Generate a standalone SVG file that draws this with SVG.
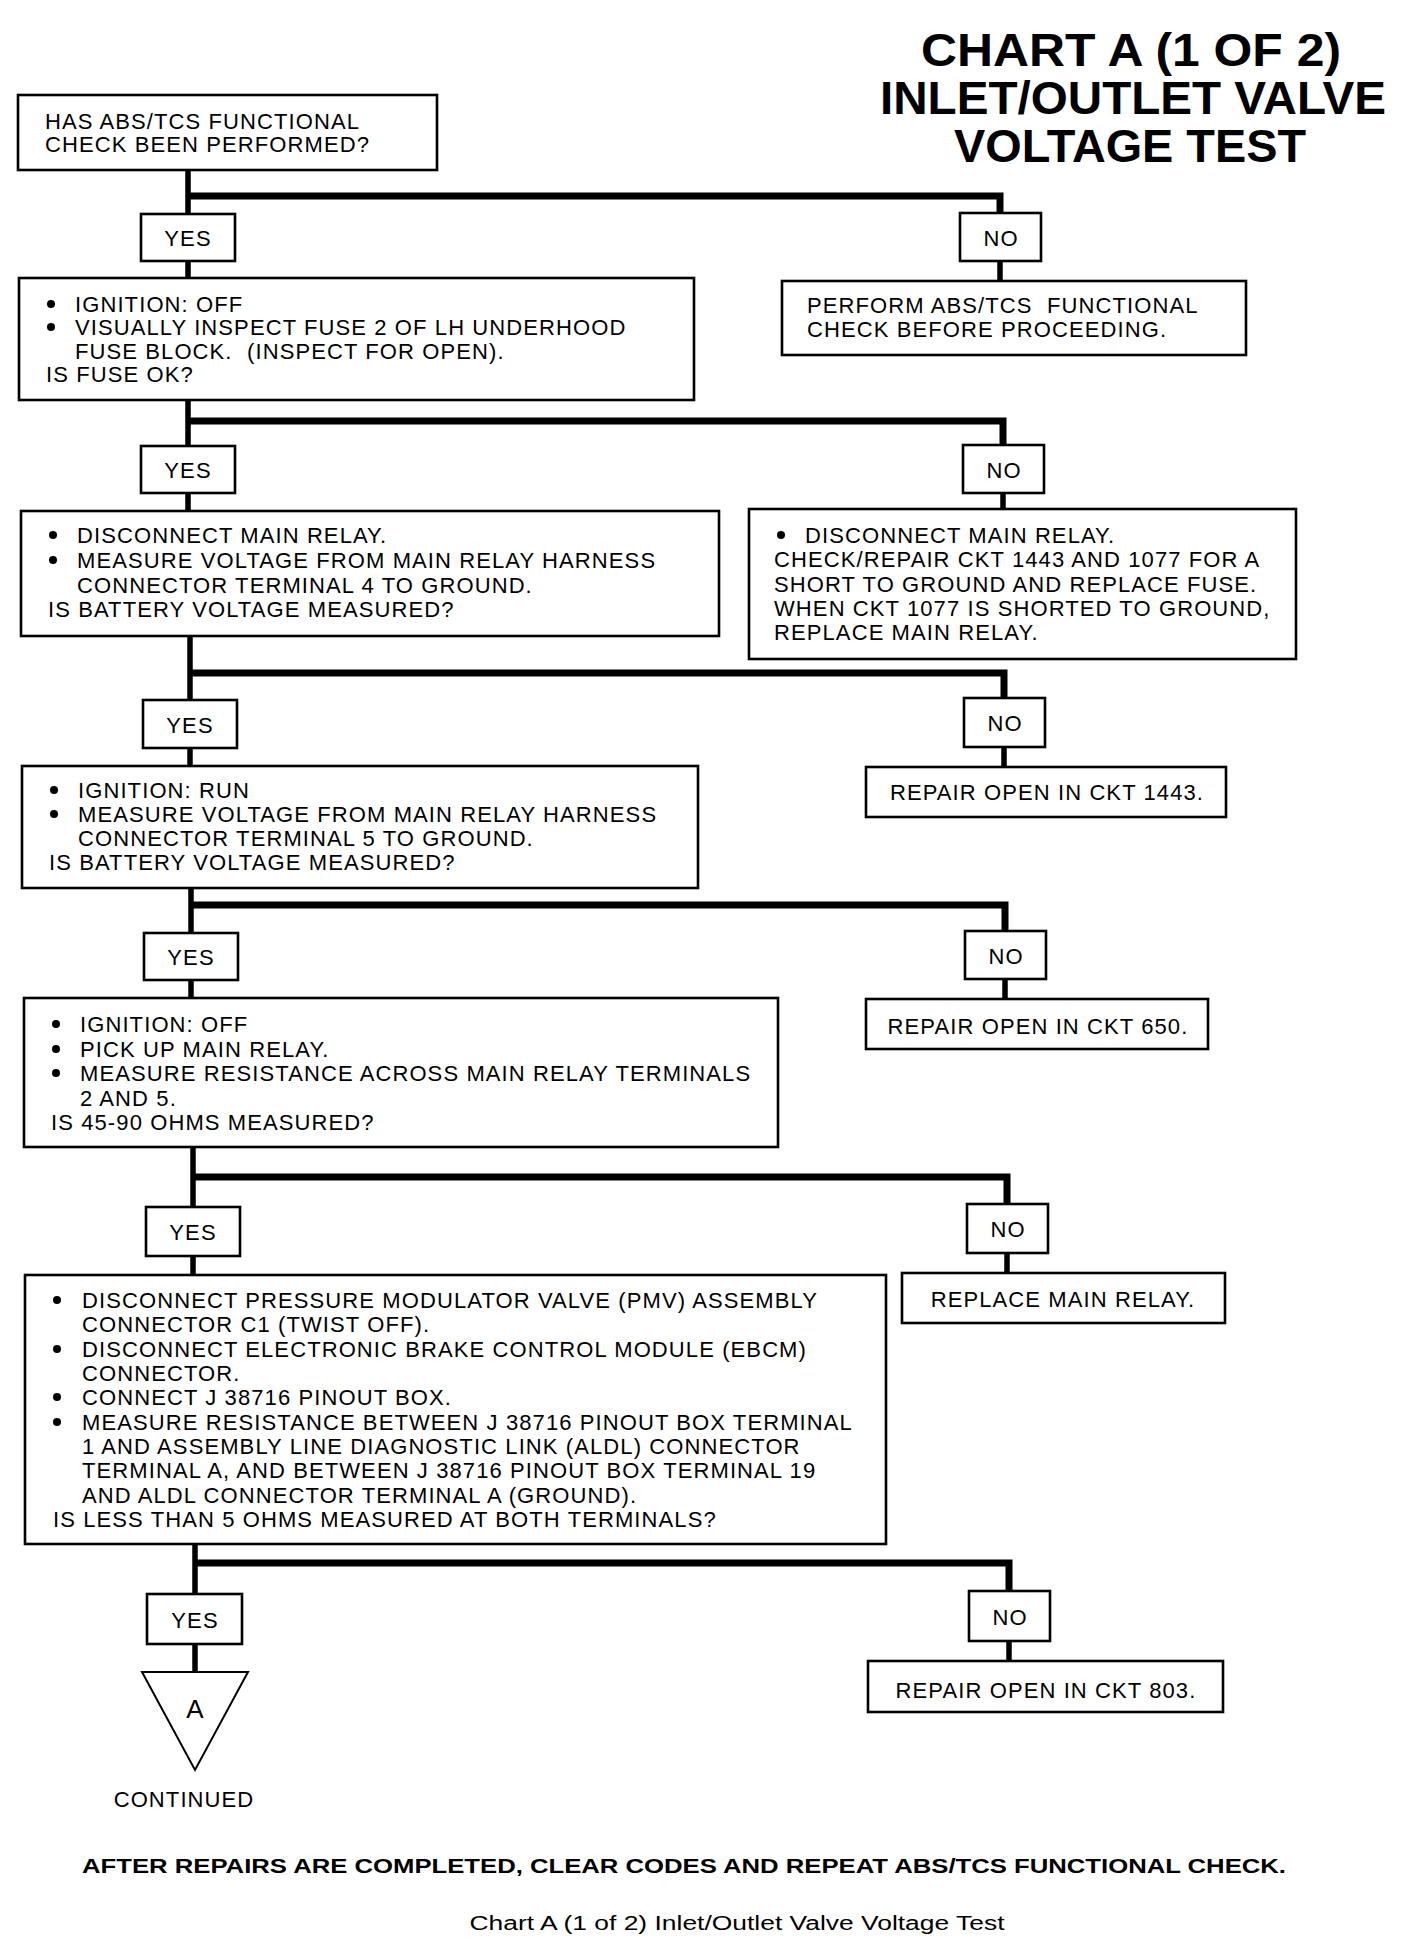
<svg xmlns="http://www.w3.org/2000/svg" width="1408" height="1944" viewBox="0 0 1408 1944">
<style>
.bg{fill:#fff}
.box{fill:#fff;stroke:#000;stroke-width:2.6}
.t{font-family:"Liberation Sans",Arial,Helvetica,sans-serif;font-size:22px;letter-spacing:1.1px;fill:#000}
.m{text-anchor:middle}
.ttl{font-family:"Liberation Sans",Arial,Helvetica,sans-serif;font-size:46px;font-weight:bold;fill:#000;text-anchor:middle}
.wire{fill:none;stroke:#000;stroke-width:5.5}
.bus{fill:none;stroke:#000;stroke-width:7;stroke-linejoin:miter;stroke-linecap:butt}
.dot{fill:#000}
</style>
<rect class="bg" x="0" y="0" width="1408" height="1944"/>

<g id="title">
<text class="ttl" x="1131" y="66" textLength="420" lengthAdjust="spacingAndGlyphs">CHART A (1 OF 2)</text>
<text class="ttl" x="1133" y="114" textLength="506" lengthAdjust="spacingAndGlyphs">INLET/OUTLET VALVE</text>
<text class="ttl" x="1130" y="162" textLength="352" lengthAdjust="spacingAndGlyphs">VOLTAGE TEST</text>
</g>

<g id="connectors">
<path class="wire" d="M188 170V214M188 261V278M1000 261V281"/>
<path class="bus" d="M188 196H1000V213"/>
<path class="wire" d="M188 400V446M188 493V511M1003 493V509"/>
<path class="bus" d="M188 421H1003V445"/>
<path class="wire" d="M190 636V700M190 748V766M1004 747V767"/>
<path class="bus" d="M190 673H1004V698"/>
<path class="wire" d="M191 888V933M191 980V998M1005 979V999"/>
<path class="bus" d="M191 905H1005V931"/>
<path class="wire" d="M193 1147V1207M193 1256V1275M1007 1253V1273"/>
<path class="bus" d="M193 1177H1007V1204"/>
<path class="wire" d="M195 1544V1594M195 1644V1672M1009 1641V1661"/>
<path class="bus" d="M195 1563H1009V1591"/>
</g>

<g id="q1">
<rect class="box" x="18" y="95" width="419" height="75"/>
<text class="t" x="45" y="129">HAS ABS/TCS FUNCTIONAL</text>
<text class="t" x="45" y="152">CHECK BEEN PERFORMED?</text>
</g>

<g id="yes1"><rect class="box" x="141" y="214" width="94" height="47"/><text class="t m" x="188" y="246">YES</text></g>
<g id="no1"><rect class="box" x="960" y="213" width="81" height="48"/><text class="t m" x="1001" y="246">NO</text></g>

<g id="q2">
<rect class="box" x="19" y="278" width="675" height="122"/>
<circle class="dot" cx="51" cy="304" r="4"/>
<text class="t" x="75" y="312">IGNITION: OFF</text>
<circle class="dot" cx="51" cy="327" r="4"/>
<text class="t" x="75" y="335">VISUALLY INSPECT FUSE 2 OF LH UNDERHOOD</text>
<text class="t" x="75" y="359" xml:space="preserve">FUSE BLOCK.  (INSPECT FOR OPEN).</text>
<text class="t" x="46" y="382">IS FUSE OK?</text>
</g>

<g id="r1">
<rect class="box" x="782" y="281" width="464" height="74"/>
<text class="t" x="807" y="313" xml:space="preserve">PERFORM ABS/TCS  FUNCTIONAL</text>
<text class="t" x="807" y="337">CHECK BEFORE PROCEEDING.</text>
</g>

<g id="yes2"><rect class="box" x="141" y="446" width="94" height="47"/><text class="t m" x="188" y="478">YES</text></g>
<g id="no2"><rect class="box" x="963" y="445" width="81" height="48"/><text class="t m" x="1004" y="478">NO</text></g>

<g id="q3">
<rect class="box" x="21" y="511" width="698" height="125"/>
<circle class="dot" cx="53" cy="535" r="4"/>
<text class="t" x="77" y="543">DISCONNECT MAIN RELAY.</text>
<circle class="dot" cx="53" cy="560" r="4"/>
<text class="t" x="77" y="568">MEASURE VOLTAGE FROM MAIN RELAY HARNESS</text>
<text class="t" x="77" y="593">CONNECTOR TERMINAL 4 TO GROUND.</text>
<text class="t" x="48" y="617">IS BATTERY VOLTAGE MEASURED?</text>
</g>

<g id="r2">
<rect class="box" x="749" y="509" width="547" height="150"/>
<circle class="dot" cx="781" cy="535" r="4"/>
<text class="t" x="805" y="543">DISCONNECT MAIN RELAY.</text>
<text class="t" x="774" y="567">CHECK/REPAIR CKT 1443 AND 1077 FOR A</text>
<text class="t" x="774" y="592">SHORT TO GROUND AND REPLACE FUSE.</text>
<text class="t" x="774" y="616">WHEN CKT 1077 IS SHORTED TO GROUND,</text>
<text class="t" x="774" y="640">REPLACE MAIN RELAY.</text>
</g>

<g id="yes3"><rect class="box" x="143" y="700" width="94" height="48"/><text class="t m" x="190" y="733">YES</text></g>
<g id="no3"><rect class="box" x="964" y="698" width="81" height="49"/><text class="t m" x="1005" y="731">NO</text></g>

<g id="q4">
<rect class="box" x="22" y="766" width="676" height="122"/>
<circle class="dot" cx="54" cy="790" r="4"/>
<text class="t" x="78" y="798">IGNITION: RUN</text>
<circle class="dot" cx="54" cy="814" r="4"/>
<text class="t" x="78" y="822">MEASURE VOLTAGE FROM MAIN RELAY HARNESS</text>
<text class="t" x="78" y="846">CONNECTOR TERMINAL 5 TO GROUND.</text>
<text class="t" x="49" y="870">IS BATTERY VOLTAGE MEASURED?</text>
</g>

<g id="r3">
<rect class="box" x="866" y="767" width="360" height="50"/>
<text class="t m" x="1047" y="800">REPAIR OPEN IN CKT 1443.</text>
</g>

<g id="yes4"><rect class="box" x="144" y="933" width="94" height="47"/><text class="t m" x="191" y="965">YES</text></g>
<g id="no4"><rect class="box" x="965" y="931" width="81" height="48"/><text class="t m" x="1006" y="964">NO</text></g>

<g id="q5">
<rect class="box" x="24" y="998" width="754" height="149"/>
<circle class="dot" cx="56" cy="1024" r="4"/>
<text class="t" x="80" y="1032">IGNITION: OFF</text>
<circle class="dot" cx="56" cy="1049" r="4"/>
<text class="t" x="80" y="1057">PICK UP MAIN RELAY.</text>
<circle class="dot" cx="56" cy="1073" r="4"/>
<text class="t" x="80" y="1081">MEASURE RESISTANCE ACROSS MAIN RELAY TERMINALS</text>
<text class="t" x="80" y="1106">2 AND 5.</text>
<text class="t" x="51" y="1130">IS 45-90 OHMS MEASURED?</text>
</g>

<g id="r4">
<rect class="box" x="866" y="999" width="342" height="50"/>
<text class="t m" x="1038" y="1034">REPAIR OPEN IN CKT 650.</text>
</g>

<g id="yes5"><rect class="box" x="146" y="1207" width="94" height="49"/><text class="t m" x="193" y="1240">YES</text></g>
<g id="no5"><rect class="box" x="967" y="1204" width="81" height="49"/><text class="t m" x="1008" y="1237">NO</text></g>

<g id="q6">
<rect class="box" x="25" y="1275" width="861" height="269"/>
<circle class="dot" cx="57" cy="1300" r="4"/>
<text class="t" x="82" y="1308">DISCONNECT PRESSURE MODULATOR VALVE (PMV) ASSEMBLY</text>
<text class="t" x="82" y="1332">CONNECTOR C1 (TWIST OFF).</text>
<circle class="dot" cx="57" cy="1349" r="4"/>
<text class="t" x="82" y="1357">DISCONNECT ELECTRONIC BRAKE CONTROL MODULE (EBCM)</text>
<text class="t" x="82" y="1381">CONNECTOR.</text>
<circle class="dot" cx="57" cy="1397" r="4"/>
<text class="t" x="82" y="1405">CONNECT J 38716 PINOUT BOX.</text>
<circle class="dot" cx="57" cy="1422" r="4"/>
<text class="t" x="82" y="1430">MEASURE RESISTANCE BETWEEN J 38716 PINOUT BOX TERMINAL</text>
<text class="t" x="82" y="1454">1 AND ASSEMBLY LINE DIAGNOSTIC LINK (ALDL) CONNECTOR</text>
<text class="t" x="82" y="1478">TERMINAL A, AND BETWEEN J 38716 PINOUT BOX TERMINAL 19</text>
<text class="t" x="82" y="1503">AND ALDL CONNECTOR TERMINAL A (GROUND).</text>
<text class="t" x="53" y="1527">IS LESS THAN 5 OHMS MEASURED AT BOTH TERMINALS?</text>
</g>

<g id="r5">
<rect class="box" x="902" y="1273" width="323" height="50"/>
<text class="t m" x="1063" y="1307">REPLACE MAIN RELAY.</text>
</g>

<g id="yes6"><rect class="box" x="147" y="1594" width="95" height="50"/><text class="t m" x="195" y="1628">YES</text></g>
<g id="no6"><rect class="box" x="969" y="1591" width="81" height="50"/><text class="t m" x="1010" y="1625">NO</text></g>

<g id="r6">
<rect class="box" x="868" y="1661" width="355" height="51"/>
<text class="t m" x="1046" y="1698">REPAIR OPEN IN CKT 803.</text>
</g>

<g id="connectorA">
<polygon points="142,1672 248,1672 195,1770" fill="#fff" stroke="#000" stroke-width="2"/>
<text class="t m" x="195" y="1718" style="font-size:26px;letter-spacing:0">A</text>
<text class="t m" x="184" y="1807">CONTINUED</text>
</g>

<g id="footer">
<text x="684" y="1873" text-anchor="middle" font-family="Liberation Sans, Arial, sans-serif" font-size="20" font-weight="bold" textLength="1204" lengthAdjust="spacingAndGlyphs">AFTER REPAIRS ARE COMPLETED, CLEAR CODES AND REPEAT ABS/TCS FUNCTIONAL CHECK.</text>
<text x="737" y="1930" text-anchor="middle" font-family="Liberation Sans, Arial, sans-serif" font-size="20" textLength="535" lengthAdjust="spacingAndGlyphs">Chart A (1 of 2) Inlet/Outlet Valve Voltage Test</text>
</g>
</svg>
